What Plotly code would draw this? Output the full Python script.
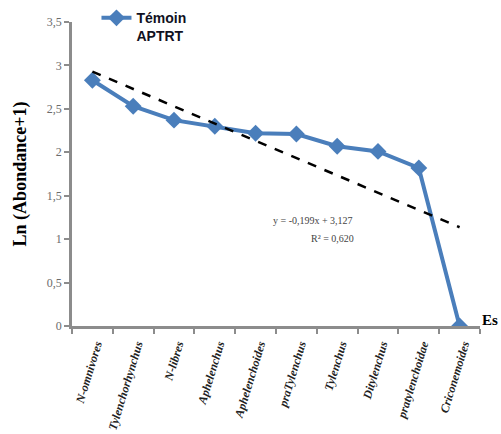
import plotly.graph_objects as go

categories = ["N-omnivores", "Tylenchorhynchus", "N-libres", "Aphelenchus",
              "Aphelenchoides", "praTylenchus", "Tylenchus", "Ditylenchus",
              "pratylenchoidae", "Criconemoides"]
ln_abundance = [2.83, 2.53, 2.37, 2.30, 2.22, 2.21, 2.07, 2.01, 1.82, 0.0]
trend_slope = -0.199
trend_intercept = 3.127
trend_r2 = 0.620
y_tickvals = [0, 0.5, 1, 1.5, 2, 2.5, 3, 3.5]
y_ticktext = ["0", "0,5", "1", "1,5", "2", "2,5", "3", "3,5"]

trend = [trend_slope * (i + 1) + trend_intercept for i in range(len(categories))]

fig = go.Figure()
fig.add_trace(go.Scatter(
    x=categories, y=ln_abundance, mode="lines+markers",
    name="<b>Témoin</b><br><b>APTRT</b>",
    line=dict(color="#4A7EBB", width=4),
    marker=dict(symbol="diamond", size=13, color="#4A7EBB"),
))
fig.add_trace(go.Scatter(
    x=categories, y=trend, mode="lines", showlegend=False,
    line=dict(color="black", width=2.5, dash="dash"),
))

fig.update_layout(
    width=501, height=434,
    margin=dict(l=72, r=21, t=22, b=108, autoexpand=False),
    plot_bgcolor="white", paper_bgcolor="white",
    showlegend=True,
    legend=dict(x=0.06, y=1.065, xanchor="left", yanchor="top",
                bgcolor="rgba(0,0,0,0)", valign="top",
                font=dict(family="Liberation Sans, Arial", size=14, color="#111122"),
                itemwidth=30, tracegroupgap=0),
)
fig.update_xaxes(
    type="category", range=[-0.5, 9.5], tickson="boundaries",
    showline=True, linecolor="#8c8c8c", linewidth=2.5,
    ticks="outside", ticklen=5, tickcolor="#8c8c8c", tickwidth=2,
    showgrid=False, zeroline=False, automargin=False,
    tickangle=-73, ticklabelstandoff=4, ticklabelshift=4,
    tickfont=dict(family="Liberation Serif, Times New Roman", size=12,
                  color="#222222", weight="bold", style="italic"),
)
fig.update_yaxes(
    range=[0, 3.5], tickvals=y_tickvals, ticktext=y_ticktext,
    showline=True, linecolor="#8c8c8c", linewidth=2.5,
    ticks="outside", ticklen=5, tickcolor="#8c8c8c", tickwidth=2,
    showgrid=False, zeroline=False, automargin=False,
    tickfont=dict(family="Liberation Serif, Times New Roman", size=12, color="#6b6b6b"),
    title=dict(text="<b>Ln (Abondance+1)</b>", standoff=16,
               font=dict(family="Liberation Serif, Times New Roman", size=18, color="black")),
)

eq_text = "y = " + f"{trend_slope:.3f}".replace(".", ",") + "x + " + \
          f"{trend_intercept:.3f}".replace(".", ",")
fig.add_annotation(xref="paper", yref="paper", x=(355 - 72) / 408, y=(326.5 - 221) / 304,
                   text=eq_text, showarrow=False,
                   font=dict(family="Liberation Serif, Times New Roman", size=10, color="#444444"))
fig.add_annotation(xref="paper", yref="paper", x=(356 - 72) / 408, y=(326.5 - 246) / 304,
                   text="R² = " + f"{trend_r2:.3f}".replace(".", ","), showarrow=False,
                   font=dict(family="Liberation Serif, Times New Roman", size=10, color="#444444"))
fig.add_annotation(xref="paper", yref="paper", x=(500 - 72) / 408, y=(326.5 - 320) / 304,
                   xanchor="right", yanchor="middle", xshift=0,
                   text="<b>Es</b>", showarrow=False,
                   font=dict(family="Liberation Serif, Times New Roman", size=15, color="black"))

fig.write_html("out.html")
